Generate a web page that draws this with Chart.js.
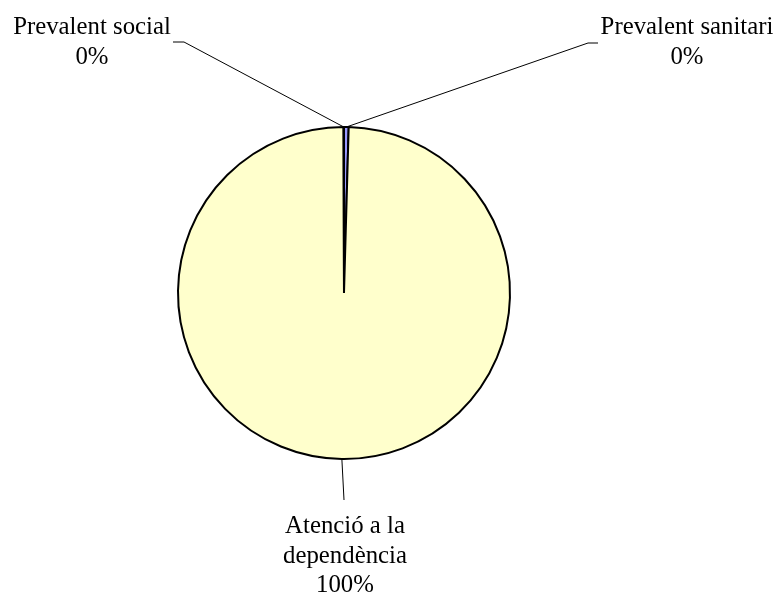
<!DOCTYPE html>
<html>
<head>
<meta charset="utf-8">
<script src="https://cdn.jsdelivr.net/npm/chart.js@4.4.0/dist/chart.umd.min.js"></script>
<style>
    html, body { margin: 0; padding: 0; background: #ffffff; }
    #wrap { width: 778px; height: 599px; position: relative; }
</style>
</head>
<body>
<div id="wrap"><canvas id="myChart" width="778" height="599"></canvas></div>
<script>
var categories = ['Prevalent sanitari', 'Atenció a la dependència', 'Prevalent social'];
var labelLines = [['Prevalent sanitari'], ['Atenció a la', 'dependència'], ['Prevalent social']];
var values = [0.45, 99.51, 0.04];
var colors = ['#9999FF', '#FFFFCC', '#993366'];

// where each label sits, and the elbow of its leader line
var labelPlaces = [
    { x: 687, y: 34, elbowX: 588, elbowY: 43, endX: 598 },
    { x: 345, y: 533, elbowX: 344, elbowY: 500, endX: 344 },
    { x: 92, y: 34, elbowX: 184, elbowY: 42, endX: 173 }
];

var pieLabels = {
    id: 'pieLabels',
    afterDraw: function (chart) {
        var ctx = chart.ctx;
        var meta = chart.getDatasetMeta(0);
        var total = 0;
        for (var i = 0; i < values.length; i++) total += values[i];
        ctx.save();
        ctx.strokeStyle = '#000000';
        ctx.lineWidth = 1;
        ctx.fillStyle = '#000000';
        ctx.font = '24.8px "Liberation Serif", "Times New Roman", serif';
        ctx.textAlign = 'center';
        ctx.textBaseline = 'alphabetic';
        for (var k = 0; k < meta.data.length; k++) {
            var arc = meta.data[k];
            var mid = (arc.startAngle + arc.endAngle) / 2;
            var px = arc.x + Math.cos(mid) * arc.outerRadius;
            var py = arc.y + Math.sin(mid) * arc.outerRadius;
            var p = labelPlaces[k];
            ctx.beginPath();
            ctx.moveTo(px, py);
            ctx.lineTo(p.elbowX, p.elbowY);
            ctx.lineTo(p.endX, p.elbowY);
            ctx.stroke();
            var lines = labelLines[k].slice();
            lines.push(Math.round(values[k] / total * 100) + '%');
            for (var j = 0; j < lines.length; j++) {
                ctx.fillText(lines[j], p.x, p.y + j * 29.5);
            }
        }
        ctx.restore();
    }
};

var ctx = document.getElementById('myChart').getContext('2d');
var myChart = new Chart(ctx, {
    type: 'pie',
    data: {
        labels: categories,
        datasets: [{
            data: values,
            backgroundColor: colors,
            borderColor: '#000000',
            borderWidth: 2
        }]
    },
    options: {
        responsive: false,
        animation: false,
        radius: 166,
        layout: { padding: { left: 0, right: 90, top: 0, bottom: 13 } },
        plugins: {
            legend: { display: false },
            tooltip: { enabled: false }
        }
    },
    plugins: [pieLabels]
});
</script>
</body>
</html>
